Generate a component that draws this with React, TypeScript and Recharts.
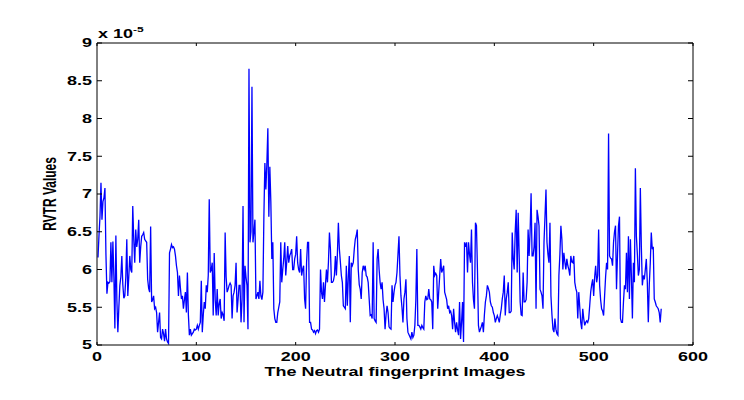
import React from 'react'
import { LineChart, Line, XAxis, YAxis } from 'recharts'

// RVTR values, in units of 1e-5 (axis shows "x 10^-5")
const rvtrPart1 = [
  6.16, 6.45, 6.7, 7.15, 6.66, 6.9, 6.95, 7.08, 6.2, 5.68,
  5.83, 5.82, 5.84, 6.36, 5.83, 6.37, 5.9, 5.22, 6.45, 5.6,
  5.17, 5.5, 5.79, 5.9, 6.18, 5.8, 5.62, 5.65, 5.9, 6.4,
  5.65, 5.9, 6.18, 6.0, 5.96, 6.84, 6.4, 6.09, 6.53, 6.3,
  6.4, 6.66, 6.09, 6.3, 6.44, 6.46, 6.49, 6.4, 6.38, 6.36,
  5.87, 5.75, 5.7, 6.57, 5.57, 5.6, 5.65, 5.48, 5.5, 5.43,
  5.17, 5.3, 5.43, 5.1, 5.08, 5.21, 5.15, 5.05, 5.21, 5.08,
  5.04, 5.02, 6.22, 6.27, 6.33, 6.29, 6.3, 6.27, 6.18, 6.05,
  5.96, 5.65, 5.92, 5.75, 5.61, 5.65, 5.48, 5.6, 5.7, 5.43,
  5.96, 5.4, 5.13, 5.21, 5.13, 5.15, 5.17, 5.21, 5.2, 5.21,
  5.26, 5.21, 5.26, 5.3,
]
const rvtrPart2 = [
  5.85, 5.17, 5.4, 5.57, 5.48, 5.79, 5.7, 5.92, 6.93, 5.96,
  6.0, 6.09, 5.39, 6.22, 5.6, 5.39, 5.74, 5.39, 5.55, 5.61,
  5.35, 5.43, 5.4, 5.32, 6.49, 5.9, 5.7, 5.74, 5.79, 5.82,
  5.79, 5.35, 5.65, 5.7, 5.79, 6.09, 5.43, 5.6, 5.79, 5.79,
  5.3, 5.6, 6.84, 5.3, 6.05, 5.9, 5.79, 5.21, 8.66, 6.36,
  6.5, 8.42, 6.36, 6.5, 6.66, 5.61, 5.65, 5.7, 5.61, 5.85,
  5.65, 5.6, 5.7, 6.7, 7.41, 7.06, 7.4, 7.87, 6.7, 7.36,
  6.9, 6.14, 6.36, 5.48, 5.35, 5.3, 5.3, 5.43, 5.5, 5.57,
  6.36, 5.83, 6.0, 6.14, 6.36, 5.92, 6.1, 6.31, 6.09, 6.18,
  6.22, 6.27, 6.0, 6.0, 6.14, 6.2, 6.44, 6.09, 6.0, 5.96,
  6.27, 5.92, 6.0, 6.05, 5.61, 5.48, 6.1, 6.36, 6.36, 5.3,
  5.3,
]
const rvtrPart3 = [
  5.21, 5.2, 5.17, 5.19, 5.15, 5.19, 5.2, 5.17, 5.21, 6.0,
  5.7, 5.61, 5.83, 5.57, 5.8, 6.0, 5.83, 6.1, 6.49, 6.27,
  5.83, 5.83, 5.85, 5.92, 6.18, 5.92, 6.2, 6.62, 6.27, 6.1,
  5.92, 5.83, 5.52, 5.5, 5.48, 6.05, 5.52, 5.9, 6.18, 5.3,
  6.09, 6.05, 6.09, 6.27, 6.4, 6.45, 6.53, 6.0, 5.8, 5.74,
  5.61, 5.96, 6.05, 6.0, 6.05, 5.92, 5.9, 5.83, 5.61, 5.39,
  5.4, 5.35, 6.36, 5.35, 5.32, 5.3, 6.14, 6.27, 6.0, 5.83,
  5.74, 5.83, 5.6, 5.48, 5.21, 5.4, 5.52, 5.43, 5.24, 5.22,
  5.21, 5.79, 5.57, 5.7, 5.79, 5.83, 5.96, 6.2, 6.44, 5.92,
  5.65, 5.5, 5.3, 5.61, 5.7, 5.87, 5.35, 5.17, 5.14, 5.11,
  5.08, 5.17, 5.1, 5.13, 5.26,
]
const rvtrPart4 = [
  5.6, 6.27, 5.26, 5.26, 5.24, 5.21, 5.26, 5.23, 5.21, 5.57,
  5.65, 5.6, 5.61, 5.74, 5.61, 5.6, 5.57, 5.21, 6.05, 5.92,
  5.95, 5.92, 5.48, 5.7, 5.92, 6.14, 5.96, 6.0, 6.05, 5.7,
  5.65, 5.6, 5.48, 5.52, 5.43, 5.45, 5.39, 5.21, 5.48, 5.3,
  5.17, 5.3, 5.2, 5.13, 5.57, 5.08, 5.3, 5.57, 5.04, 6.36,
  6.3, 6.36, 5.96, 6.36, 6.2, 6.09, 6.53, 5.83, 5.6, 5.48,
  6.62, 6.58, 6.0, 5.26, 5.17, 5.21, 5.25, 5.3, 5.17, 5.4,
  5.57, 5.65, 5.79, 5.75, 5.7, 5.57, 5.52, 5.5, 5.43, 5.39,
  5.3, 5.35, 5.39, 5.35, 5.3, 5.4, 5.48, 5.61, 5.7, 5.92,
  5.39, 5.61, 5.7, 5.83, 5.43, 5.43, 5.45, 6.49, 6.14, 6.0,
  6.5, 6.79, 5.96, 6.75, 6.2,
]
const rvtrPart5 = [
  5.57, 5.4, 5.39, 5.96, 5.57, 5.57, 5.6, 5.83, 6.53, 6.18,
  6.5, 7.01, 6.18, 6.18, 6.3, 6.62, 5.48, 6.79, 6.7, 6.58,
  5.74, 5.7, 5.65, 5.48, 6.36, 6.7, 7.06, 6.36, 6.2, 6.09,
  6.62, 5.65, 5.4, 5.21, 5.17, 5.35, 5.21, 5.15, 5.13, 5.92,
  6.2, 6.58, 6.4, 6.0, 6.22, 6.1, 6.0, 6.14, 6.05, 6.0,
  5.92, 6.18, 6.1, 6.09, 6.18, 5.83, 5.75, 5.7, 5.35, 5.7,
  5.5, 5.3, 5.21, 5.48, 5.35, 5.26, 5.3, 5.32, 5.3, 5.35,
  5.52, 5.7, 5.8, 5.87, 5.65, 5.9, 6.05, 5.83, 5.92, 6.53,
  5.79, 5.6, 5.48, 5.45, 5.39, 5.65, 5.9, 6.09, 6.0, 7.8,
  6.18, 6.15, 6.14, 6.05, 6.36, 6.5, 6.58, 5.74, 6.2, 6.58,
  6.7, 5.35, 5.3, 5.3, 5.57,
]
const rvtrPart6 = [
  5.79, 5.74, 6.22, 5.7, 6.44, 5.61, 6.4, 5.9, 5.35, 6.09,
  5.83, 7.34, 6.44, 6.2, 5.92, 6.0, 7.08, 6.3, 5.79, 5.92,
  5.87, 6.0, 6.14, 5.83, 5.3, 5.8, 6.09, 6.49, 6.27, 6.3,
  5.61, 5.57, 5.52, 5.5, 5.48, 5.43, 5.3, 5.48,
]

const xTicks = [0, 100, 200, 300, 400, 500, 600]
const yTicks = [5, 5.5, 6, 6.5, 7, 7.5, 8, 8.5, 9]

const rvtr = [...rvtrPart1, ...rvtrPart2, ...rvtrPart3, ...rvtrPart4, ...rvtrPart5, ...rvtrPart6]
const data = rvtr.map((v, i) => ({ image: i + 1, v }))

const FONT = '"Liberation Sans", Arial, Helvetica, sans-serif'
const SX = 1.5 // the source figure is stretched sideways

function Txt({ x, y, anchor = 'middle', size = 12, children, rotate = 0 }: any) {
  return (
    <text
      transform={`translate(${x},${y}) scale(${SX},1)${rotate ? ` rotate(${rotate})` : ''}`}
      textAnchor={anchor}
      dominantBaseline="central"
      fontFamily={FONT}
      fontWeight="bold"
      fontSize={size}
      fill="#000"
    >
      {children}
    </text>
  )
}

const BottomTick = ({ x, y, payload }: any) => (
  <g>
    <line x1={x} x2={x} y1={y} y2={y - 3} stroke="#000" />
    <Txt x={x} y={y + 12}>{payload.value}</Txt>
  </g>
)
const TopTick = ({ x, y }: any) => <line x1={x} x2={x} y1={y} y2={y + 3} stroke="#000" />
const LeftTick = ({ x, y, payload }: any) => (
  <g>
    <line x1={x} x2={x + 5} y1={y} y2={y} stroke="#000" />
    <Txt x={x - 5} y={y} anchor="end">{payload.value}</Txt>
  </g>
)
const RightTick = ({ x, y }: any) => <line x1={x} x2={x - 5} y1={y} y2={y} stroke="#000" />

export default function App() {
  return (
    <div style={{ position: 'absolute', left: 0, top: 0, width: 744, height: 400, background: '#fff' }}>
      <LineChart width={744} height={400} data={data} margin={{ top: 42, right: 50, bottom: 54, left: 96 }}>
        <XAxis xAxisId="b" dataKey="image" type="number" domain={[0, 600]} ticks={xTicks} interval={0}
          height={1} tickSize={0} tickMargin={0} tickLine={false} axisLine={{ stroke: '#000' }}
          tick={(p: any) => <BottomTick {...p} />} allowDataOverflow />
        <XAxis xAxisId="t" orientation="top" dataKey="image" type="number" domain={[0, 600]} ticks={xTicks} interval={0}
          height={1} tickSize={0} tickMargin={0} tickLine={false} axisLine={{ stroke: '#000' }}
          tick={(p: any) => <TopTick {...p} />} allowDataOverflow />
        <YAxis yAxisId="l" type="number" domain={[5, 9]} ticks={yTicks} interval={0}
          width={1} tickSize={0} tickMargin={0} tickLine={false} axisLine={{ stroke: '#000' }}
          tick={(p: any) => <LeftTick {...p} />} allowDataOverflow />
        <YAxis yAxisId="r" orientation="right" type="number" domain={[5, 9]} ticks={yTicks} interval={0}
          width={1} tickSize={0} tickMargin={0} tickLine={false} axisLine={{ stroke: '#000' }}
          tick={(p: any) => <RightTick {...p} />} allowDataOverflow />
        <Line xAxisId="b" yAxisId="l" type="linear" dataKey="v" stroke="#0000ff" strokeWidth={1.3}
          dot={false} isAnimationActive={false} />
        <text transform={`translate(98,38) scale(${SX},1)`} fontFamily={FONT} fontWeight="bold" fontSize={12} fill="#000">
          x 10<tspan fontSize={8} dy={-6}>-5</tspan>
        </text>
        <Txt x={50} y={194} rotate={-90}>RVTR Values</Txt>
        <Txt x={395} y={372}>The Neutral fingerprint Images</Txt>
      </LineChart>
    </div>
  )
}
